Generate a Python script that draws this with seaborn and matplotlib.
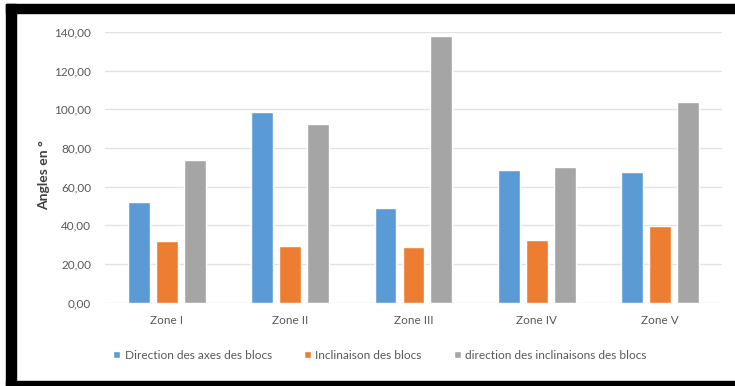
import matplotlib
matplotlib.use("Agg")
import matplotlib.pyplot as plt
import seaborn as sns
import pandas as pd
from matplotlib.ticker import FuncFormatter, MultipleLocator
from matplotlib.patches import Rectangle

categories = ["Zone I", "Zone II", "Zone III", "Zone IV", "Zone V"]
series_names = ["Direction des axes des blocs", "Inclinaison des blocs",
                "direction des inclinaisons des blocs"]
direction_axes = [52.3, 98.8, 49.0, 68.4, 67.7]
inclinaison = [32.1, 29.5, 29.0, 32.6, 39.8]
direction_incl = [73.8, 92.5, 137.8, 70.3, 103.8]
colors = ["#5B9BD5", "#ED7D31", "#A5A5A5"]

rows = []
for name, vals in zip(series_names, [direction_axes, inclinaison, direction_incl]):
    for c, v in zip(categories, vals):
        rows.append({"Zone": c, "Série": name, "Valeur": v})
df = pd.DataFrame(rows)

sns.set_style("white")
plt.rcParams["font.family"] = ["Lato", "DejaVu Sans"]

fig = plt.figure(figsize=(7.35, 3.86), dpi=100)
ax = fig.add_axes([0.143, 0.216, 0.839, 0.701])

sns.barplot(data=df, x="Zone", y="Valeur", hue="Série", hue_order=series_names,
            order=categories, palette=colors, width=0.68, gap=0.22,
            saturation=1, ax=ax, legend=True)

ax.set_ylim(0, 140)
ax.yaxis.set_major_locator(MultipleLocator(20))
ax.yaxis.set_major_formatter(FuncFormatter(lambda v, p: f"{v:.2f}".replace(".", ",")))
ax.grid(axis="y", color="#E3E3E3", linewidth=1)
ax.set_axisbelow(True)
for s in ax.spines.values():
    s.set_visible(False)
ax.tick_params(axis="both", length=0, labelsize=8.5, colors="#595959", pad=10)
ax.tick_params(axis="x", pad=9)
ax.set_xlabel("")
ax.set_ylabel("Angles en °", fontsize=10, fontweight="bold", color="#404040")
ax.yaxis.set_label_coords(-0.09, 0.47)

handles, labels = ax.get_legend_handles_labels()
ax.legend_.remove()
fig.legend(handles, labels, loc="center", bbox_to_anchor=(0.517, 0.08), ncol=3,
           frameon=False, fontsize=8.6, labelcolor="#595959", handlelength=0.6,
           handleheight=0.6, handletextpad=0.35, columnspacing=2.7)

# black frame
fig.patches.append(Rectangle((6 / 735, 1 - 13 / 386), 1, 9 / 386, transform=fig.transFigure,
                             color="black", zorder=10))
fig.patches.append(Rectangle((6 / 735, 0), 10 / 735, 1 - 4 / 386, transform=fig.transFigure,
                             color="black", zorder=10))
fig.patches.append(Rectangle((6 / 735, 0), 1, 5 / 386, transform=fig.transFigure,
                             color="black", zorder=10))

fig.savefig("out.png", dpi=100)
